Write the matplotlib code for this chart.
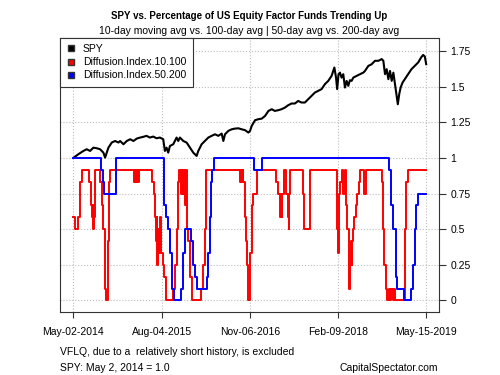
import matplotlib
matplotlib.use("Agg")
import matplotlib.pyplot as plt
from matplotlib.lines import Line2D

plt.rcParams['font.family'] = ['Liberation Sans', 'DejaVu Sans']

# trading-day index since May-02-2014
tick_days = [0, 317, 634, 951, 1268]
tick_labels = ['May-02-2014', 'Aug-04-2015', 'Nov-06-2016', 'Feb-09-2018', 'May-15-2019']

y_ticks = [0, 0.25, 0.5, 0.75, 1, 1.25, 1.5, 1.75]
y_labels = ['0', '0.25', '0.5', '0.75', '1', '1.25', '1.5', '1.75']

spy_day = [0, 18, 36, 48, 60, 72, 84, 96, 108, 114, 126, 138, 150, 162, 168, 180, 192, 204,
           216, 228, 240, 251, 263, 275, 287, 299, 311, 323, 329, 335, 341, 347, 359, 371,
           377, 383, 395, 407, 419, 431, 443, 449, 461, 473, 485, 497, 509, 521, 533, 539,
           545, 557, 569, 581, 593, 605, 617, 629, 635, 641, 653, 665, 677, 689, 701, 713,
           724, 736, 748, 760, 772, 784, 796, 808, 820, 832, 844, 856, 868, 880, 892, 904,
           916, 928, 938, 944, 948, 953, 958, 964, 970, 976, 982, 988, 994, 1000, 1006,
           1018, 1030, 1042, 1048, 1060, 1072, 1084, 1096, 1108, 1114, 1120, 1126, 1132,
           1138, 1144, 1150, 1155, 1161, 1166, 1171, 1176, 1183, 1191, 1203, 1215, 1227,
           1239, 1251, 1257, 1263, 1268]
spy_val = [1.000, 1.026, 1.049, 1.061, 1.049, 1.072, 1.068, 1.061, 1.037, 1.002, 1.072, 1.108,
           1.119, 1.108, 1.119, 1.096, 1.119, 1.131, 1.119, 1.136, 1.143, 1.148, 1.155, 1.143,
           1.150, 1.138, 1.143, 1.131, 1.049, 1.072, 1.037, 1.084, 1.096, 1.143, 1.119, 1.143,
           1.119, 1.108, 1.072, 1.037, 1.014, 1.049, 1.096, 1.119, 1.143, 1.155, 1.166, 1.155,
           1.171, 1.119, 1.166, 1.190, 1.201, 1.206, 1.208, 1.201, 1.195, 1.178, 1.190, 1.225,
           1.265, 1.272, 1.276, 1.295, 1.330, 1.342, 1.330, 1.335, 1.342, 1.353, 1.370, 1.382,
           1.382, 1.400, 1.389, 1.389, 1.412, 1.436, 1.459, 1.471, 1.483, 1.518, 1.541, 1.576,
           1.635, 1.564, 1.483, 1.588, 1.599, 1.564, 1.588, 1.494, 1.541, 1.506, 1.546, 1.541,
           1.564, 1.576, 1.588, 1.599, 1.611, 1.646, 1.658, 1.682, 1.682, 1.694, 1.682, 1.588,
           1.623, 1.553, 1.611, 1.541, 1.599, 1.529, 1.447, 1.377, 1.447, 1.494, 1.529, 1.553,
           1.588, 1.623, 1.646, 1.670, 1.709, 1.723, 1.712, 1.658]

red_day = [0, 6, 18, 24, 30, 56, 63, 66, 69, 72, 74, 77, 97, 104, 108, 113, 115, 117, 126, 129,
           132, 218, 220, 222, 224, 226, 228, 230, 232, 234, 236, 281, 289, 295, 297, 299, 302,
           305, 308, 311, 314, 323, 327, 332, 359, 365, 371, 377, 381, 387, 389, 394, 396, 401,
           404, 407, 413, 419, 425, 459, 467, 472, 476, 599, 601, 603, 605, 607, 609, 611, 617,
           621, 623, 626, 635, 641, 647, 659, 730, 734, 741, 745, 748, 751, 756, 765, 770, 774,
           776, 780, 826, 830, 850, 946, 948, 952, 956, 960, 965, 970, 975, 978, 984, 989, 991,
           995, 997, 1000, 1002, 1006, 1009, 1014, 1020, 1026, 1030, 1045, 1050, 1109, 1114,
           1118, 1122, 1126, 1135, 1139, 1143, 1148, 1152, 1157, 1191, 1196, 1202, 1268]
red_val = [0.583, 0.5, 0.583, 0.833, 0.917, 0.833, 0.667, 0.583, 0.667, 0.5, 0.583, 0.917, 0.833,
           0.667, 0.5, 0.417, 0.083, 0.0, 0.417, 0.833, 0.917, 0.833, 0.917, 0.833, 0.917, 0.833,
           0.917, 0.833, 0.917, 0.833, 0.917, 0.833, 0.75, 0.583, 0.417, 0.583, 0.25, 0.5, 0.333,
           0.583, 0.333, 0.25, 0.167, 0.0, 0.083, 0.25, 0.5, 0.833, 0.917, 0.75, 0.917, 0.75,
           0.917, 0.667, 0.917, 0.5, 0.417, 0.167, 0.0, 0.083, 0.25, 0.5, 0.917, 0.833, 0.917,
           0.833, 0.917, 0.833, 0.917, 0.833, 0.583, 0.417, 0.25, 0.0, 0.333, 0.667, 0.75, 0.917,
           0.833, 0.75, 0.583, 0.75, 0.583, 0.75, 0.917, 0.75, 0.583, 0.5, 0.75, 0.917, 0.75, 0.5,
           0.917, 0.75, 0.5, 0.333, 0.75, 0.833, 0.917, 0.75, 0.917, 0.667, 0.5, 0.167, 0.083,
           0.25, 0.417, 0.25, 0.417, 0.5, 0.583, 0.667, 0.75, 0.833, 0.917, 0.75, 0.917, 0.833,
           0.5, 0.25, 0.083, 0.0, 0.083, 0.0, 0.083, 0.0, 0.083, 0.0, 0.5, 0.833, 0.917, 0.917]

blue_day = [0, 98, 107, 111, 152, 325, 333, 341, 347, 355, 363, 387, 394, 401, 423, 430, 438,
            446, 479, 485, 491, 496, 499, 505, 649, 679, 1135, 1141, 1148, 1158, 1164, 1190,
            1212, 1220, 1226, 1232, 1238, 1268]
blue_val = [1.0, 0.917, 0.833, 0.75, 1.0, 0.667, 0.583, 0.5, 0.333, 0.083, 0.0, 0.083, 0.333,
            0.5, 0.417, 0.25, 0.167, 0.083, 0.167, 0.333, 0.583, 0.833, 0.917, 1.0, 0.917, 1.0,
            0.917, 0.667, 0.5, 0.167, 0.083, 0.0, 0.083, 0.25, 0.5, 0.667, 0.75, 0.75]

fig = plt.figure(figsize=(5, 3.75), dpi=100)
ax = fig.add_axes([0.12, 0.168, 0.758, 0.731])

ax.plot(spy_day, spy_val, color='black', lw=1.5, label='SPY')
ax.step(red_day, red_val, where='post', color='#ff0000', lw=1.4, label='Diffusion.Index.10.100')
ax.step(blue_day, blue_val, where='post', color='#0000ff', lw=1.4, label='Diffusion.Index.50.200')

ax.set_xlim(-48, 1314)
ax.set_ylim(-0.082, 1.843)

ax.set_xticks(tick_days)
ax.set_xticklabels(tick_labels)
ax.yaxis.tick_right()
ax.set_yticks(y_ticks)
ax.set_yticklabels(y_labels)
ax.tick_params(axis='x', length=4.5, width=0.8, pad=6, labelsize=7.5, color='#333333')
ax.tick_params(axis='y', length=4.8, width=0.8, pad=3.5, labelsize=7.5, color='#333333')

ax.grid(True, color='#bbbbbb', linestyle=':', lw=0.8)
for s in ax.spines.values():
    s.set_color('#333333')
    s.set_linewidth(0.8)

handles = [Line2D([], [], marker='s', ls='none', color=c, markeredgecolor='#333333',
                  markersize=5) for c in ['black', '#ff0000', '#0000ff']]
leg = ax.legend(handles, ['SPY', 'Diffusion.Index.10.100', 'Diffusion.Index.50.200'],
                loc='upper left', bbox_to_anchor=(0, 1), borderaxespad=0, fancybox=False,
                framealpha=1, edgecolor='#333333', fontsize=7.5, handletextpad=0.6,
                labelspacing=0.3, borderpad=0.6, handlelength=1.0)
leg.get_frame().set_linewidth(0.8)

fig.text(0.499, 0.957, 'SPY vs. Percentage of US Equity Factor Funds Trending Up',
         ha='center', va='center', fontsize=7, fontweight='bold')
fig.text(0.499, 0.917, '10-day moving avg vs. 100-day avg | 50-day avg vs. 200-day avg',
         ha='center', va='center', fontsize=7.5)

fig.text(0.12, 0.061, 'VFLQ, due to a  relatively short history, is excluded',
         ha='left', va='center', fontsize=7.5)
fig.text(0.12, 0.019, 'SPY: May 2, 2014 = 1.0', ha='left', va='center', fontsize=7.5)
fig.text(0.876, 0.019, 'CapitalSpectator.com', ha='right', va='center', fontsize=7.5)

fig.savefig('out.png', dpi=100)
